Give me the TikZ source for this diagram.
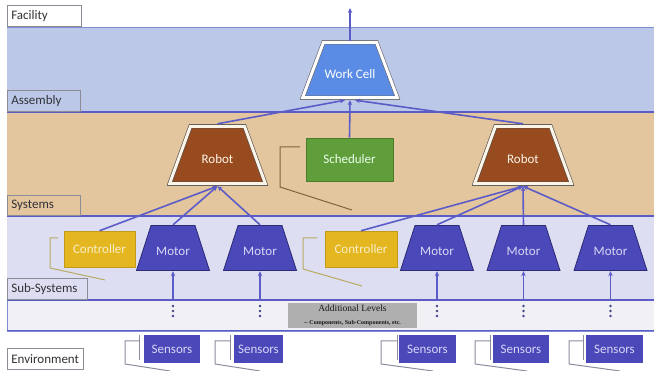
\documentclass[tikz,border=0pt]{standalone}
\usepackage{fontspec}
\setmainfont{Carlito}
\newfontfamily\notefont{Liberation Serif}
\usetikzlibrary{arrows.meta}

% band and shape colours
\definecolor{bandblue}{RGB}{187,200,232}
\definecolor{bandtan}{RGB}{227,197,158}
\definecolor{bandlav}{RGB}{221,222,242}
\definecolor{bandgray}{RGB}{240,240,245}
\definecolor{linkblue}{RGB}{92,92,200}
\definecolor{edgeblue}{RGB}{130,140,210}
\definecolor{labelgray}{RGB}{140,140,150}
\definecolor{labeltext}{RGB}{50,50,55}
\definecolor{cellblue}{RGB}{90,140,230}
\definecolor{robotbrown}{RGB}{152,75,30}
\definecolor{cream}{RGB}{252,244,230}
\definecolor{schedgreen}{RGB}{96,158,60}
\definecolor{schededge}{RGB}{74,125,44}
\definecolor{ctrlgold}{RGB}{228,182,32}
\definecolor{ctrltext}{RGB}{248,238,200}
\definecolor{motorblue}{RGB}{75,72,185}
\definecolor{motoredge}{RGB}{45,42,120}
\definecolor{softtext}{RGB}{215,215,245}
\definecolor{brbrown}{RGB}{130,100,60}
\definecolor{brkhaki}{RGB}{185,170,100}
\definecolor{brgray}{RGB}{140,140,160}
\definecolor{notegray}{RGB}{175,175,175}

\begin{document}
\begin{tikzpicture}[x=1pt,y=-1pt,
  font=\fontsize{13}{15}\selectfont,
  levellabel/.style={draw=labelgray, line width=0.6pt, anchor=north west,
    minimum height=21pt, inner xsep=4pt, inner ysep=0pt, align=left,
    text=labeltext},
  band/.style={draw=linkblue, line width=1.6pt},
  conn/.style={draw=linkblue, line width=1.6pt},
  tip/.style={-{Stealth[length=5pt,width=4.5pt]}},
  % trapezoid with a double outline, drawn inside the node's box
  % #1 fill, #2 outline, #3 gap colour, #4 top inset
  trapdouble/.style n args={4}{rectangle, inner sep=0pt,
    path picture={\path[fill=#1, draw=#2, line width=0.6pt, double=#3,
        double distance=3pt, line join=miter]
      ([shift={(2.6pt,2.3pt)}]path picture bounding box.south west) --
      ([shift={(-2.6pt,2.3pt)}]path picture bounding box.south east) --
      ([shift={(-#4,-2.3pt)}]path picture bounding box.north east) --
      ([shift={(#4,-2.3pt)}]path picture bounding box.north west) -- cycle;}},
  % plain trapezoid, #1 fill, #2 outline, #3 top inset
  trapsingle/.style n args={3}{rectangle, inner sep=0pt,
    path picture={\path[fill=#1, draw=#2, line width=0.8pt]
      ([shift={(0.5pt,0.5pt)}]path picture bounding box.south west) --
      ([shift={(-0.5pt,0.5pt)}]path picture bounding box.south east) --
      ([shift={(-#3,-0.5pt)}]path picture bounding box.north east) --
      ([shift={(#3,-0.5pt)}]path picture bounding box.north west) -- cycle;}},
  cellshape/.style={trapdouble={cellblue}{gray!80!black}{white}{23.5pt},
    minimum width=100pt, minimum height=60pt, text=white,
    text height=17pt, text depth=0pt},
  robotshape/.style={trapdouble={robotbrown}{black!70}{cream}{23.5pt},
    minimum width=101pt, minimum height=62pt, text=cream,
    text height=18pt, text depth=0pt},
  motorshape/.style={trapsingle={motorblue}{motoredge}{15pt},
    minimum width=74pt, minimum height=46pt, text=softtext,
    text height=16pt, text depth=0pt},
  ctrlbox/.style={rectangle, draw=ctrlgold!85!black, line width=0.5pt,
    fill=ctrlgold, text=ctrltext, minimum width=71pt, minimum height=36pt,
    inner sep=0pt},
  sensorbox/.style={rectangle, fill=motorblue, text=softtext,
    minimum height=28pt, inner sep=0pt},
  bracket/.style={line width=1pt}
]
\useasboundingbox (0,0) rectangle (654,371);

% level bands
\fill[bandblue] (7,27) rectangle (654,112);
\fill[bandtan] (7,112) rectangle (654,216);
\fill[bandlav] (7,216) rectangle (654,300);
\filldraw[bandgray, draw=edgeblue, line width=0.6pt] (7,300) rectangle (654,331);
\draw[edgeblue, line width=0.8pt] (7,27) -- (654,27);
\draw[band] (7,112) -- (654,112);
\draw[band] (7,216) -- (654,216);
\draw[band] (7,300) -- (654,300);
\draw[linkblue, line width=1pt] (7,331) -- (654,331);

% level labels
\node[levellabel, fill=white, text width=66pt] (lfac) at (7,5) {Facility};
\node[levellabel, fill=bandblue, text width=65pt] (lasm) at (7,90) {Assembly};
\node[levellabel, fill=bandtan, text width=65pt, minimum height=20pt] (lsys) at (7,195) {Systems};
\node[levellabel, fill=bandlav, text width=72pt] (lsub) at (7,278) {Sub-Systems};
\node[levellabel, fill=white, text width=68pt] (lenv) at (7,348) {Environment};

% assembly level
\node[cellshape] (wc) at (350,70) {Work Cell};
\coordinate (wcout) at (350,8);

% system level
\node[robotshape] (rl) at (217.5,155) {Robot};
\node[robotshape, minimum width=102pt] (rr) at (523,155) {Robot};
\node[rectangle, draw=schededge, line width=0.6pt, fill=schedgreen,
  text=green!8!white, minimum width=87pt, minimum height=43pt, inner sep=0pt]
  (sched) at (349.5,159.5) {Scheduler};

% sub-system level
\node[ctrlbox] (c1) at (99.5,249) {Controller};
\node[ctrlbox, minimum width=72pt] (c2) at (361,249) {Controller};
\node[motorshape] (m1) at (173,248) {Motor};
\node[motorshape] (m2) at (260,248) {Motor};
\node[motorshape] (m3) at (437,248) {Motor};
\node[motorshape] (m4) at (523.5,248) {Motor};
\node[motorshape] (m5) at (610.5,248) {Motor};

% additional levels note
\node[rectangle, fill=notegray, minimum width=129pt, minimum height=25pt,
  inner sep=0pt, align=center, text=black!90] (extra) at (352.5,315.5)
  {\notefont\fontsize{9.5}{10}\selectfont Additional Levels\\[-1.5pt]
   \notefont\bfseries\fontsize{6}{7}\selectfont -- Components, Sub-Components, etc.};

% sensors
\node[sensorbox, minimum width=56pt] (s1) at (172,349) {Sensors};
\node[sensorbox, minimum width=49pt] (s2) at (258.5,349) {Sensors};
\node[sensorbox, minimum width=57pt] (s3) at (427.5,349) {Sensors};
\node[sensorbox, minimum width=56pt] (s4) at (521,349) {Sensors};
\node[sensorbox, minimum width=57pt] (s5) at (614.5,349) {Sensors};

% connectors
\draw[conn, tip] ([yshift=-1pt]wc.north) -- (wcout);
\draw[conn, tip] (sched.north) -- (wc.south);
\draw[conn, tip] (rl.north) -- ([xshift=-5pt]wc.south);
\draw[conn, tip] (rr.north) -- ([xshift=5pt]wc.south);
\foreach \t in {c1,m1,m2} \draw[conn, tip] (\t.north) -- (rl.south);
\foreach \t in {c2,m3,m4,m5} \draw[conn, tip] (\t.north) -- (rr.south);

% inputs from the lower levels
\foreach \m in {m1,m2,m3,m4,m5} {
  \coordinate (\m in) at (\m.south |- 0,300);
  \draw[conn, tip] (\m in) -- (\m.south);
  \foreach \d in {306,311,316}
    \fill[linkblue!70!black] (\m.south |- 0,\d) circle (1.3pt);
}

% brackets
\draw[bracket, brbrown] (300,147) -- (280,147) -- (280,187) -- (352,210);
\draw[bracket, brkhaki] (58,238) -- (50,238) -- (50,268) -- (105,280);
\draw[bracket, brkhaki] (317,238) -- (303,238) -- (303,269) -- (362,286);
\foreach \a/\b/\e in {125/139/170, 215/230/260, 381/397/433, 475/490/527, 569/583/620} {
  \draw[bracket, brgray] (\b,335) -- (\b,360);
  \draw[bracket, brgray] (\b,341) -- (\a,341) -- (\a,364) -- (\e,371);
}
\end{tikzpicture}
\end{document}
